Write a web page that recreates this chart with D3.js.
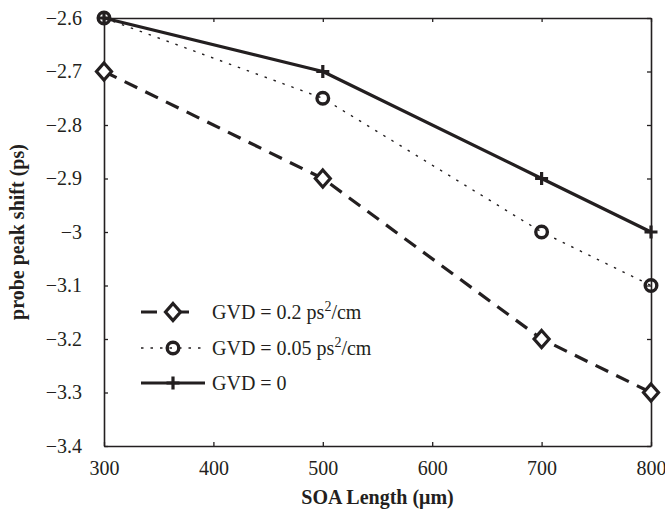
<!DOCTYPE html>
<html><head><meta charset="utf-8">
<script src="https://cdn.jsdelivr.net/npm/d3@7"></script>
<style>body{margin:0;background:#fff}svg{display:block}</style>
</head><body>
<svg id="c" width="665" height="511"></svg>
<script>
const lengths = [300, 500, 700, 800];
const gvd02 = [-2.7, -2.9, -3.2, -3.3];
const gvd005 = [-2.6, -2.75, -3.0, -3.1];
const gvd0 = [-2.6, -2.7, -2.9, -3.0];
const xTicks = [300, 400, 500, 600, 700, 800];
const yTicks = [-2.6, -2.7, -2.8, -2.9, -3.0, -3.1, -3.2, -3.3, -3.4];
const seriesNames = ["GVD = 0.2 ps", "GVD = 0.05 ps", "GVD = 0"];

const svg = d3.select("#c");
const L = 104, R = 651, T = 18, B = 446;
const x = d3.scaleLinear().domain([300, 800]).range([L, R]);
const y = d3.scaleLinear().domain([-3.4, -2.6]).range([B, T]);
const font = "'Liberation Serif','Times New Roman',serif";
const col = "#231f20";
const fs = 20;

const fmtY = d => (d === -3 ? "−3" : "−" + Math.abs(d).toFixed(1));

// axes
const axB = svg.append("g").attr("transform", `translate(0,${B})`)
  .call(d3.axisBottom(x).tickValues(xTicks).tickSizeInner(-4).tickSizeOuter(0).tickPadding(15));
const axL = svg.append("g").attr("transform", `translate(${L},0)`)
  .call(d3.axisLeft(y).tickValues(yTicks).tickSizeInner(-4).tickSizeOuter(0).tickPadding(22).tickFormat(fmtY));
const axT = svg.append("g").attr("transform", `translate(0,${T})`)
  .call(d3.axisTop(x).tickValues(xTicks).tickSizeInner(-4).tickSizeOuter(0).tickFormat(""));
const axR = svg.append("g").attr("transform", `translate(${R},0)`)
  .call(d3.axisRight(y).tickValues(yTicks).tickSizeInner(-4).tickSizeOuter(0).tickFormat(""));
[axB, axL, axT, axR].forEach(a => {
  a.select(".domain").attr("stroke", col).attr("stroke-width", 1.6);
  a.selectAll(".tick line").attr("stroke", col).attr("stroke-width", 1.3);
  a.selectAll("text").attr("font-family", font).attr("font-size", fs).attr("fill", col);
});
axB.selectAll("text").attr("dy", "0.71em");

// axis titles
svg.append("text").attr("x", (L + R) / 2).attr("y", 504).attr("text-anchor", "middle")
  .attr("font-family", font).attr("font-size", fs).attr("font-weight", "bold").attr("fill", col)
  .text("SOA Length (μm)");
svg.append("text").attr("transform", `translate(24,${(T + B) / 2}) rotate(-90)`).attr("text-anchor", "middle")
  .attr("font-family", font).attr("font-size", fs).attr("font-weight", "bold").attr("fill", col)
  .text("probe peak shift (ps)");

const styles = [
  {vals: gvd02, dash: "14,9", legDash: "16,9,23,100", w: 3.2, marker: "diamond"},
  {vals: gvd005, dash: "2.5,7", legDash: "2.5,7", w: 1.4, marker: "circle"},
  {vals: gvd0, dash: null, legDash: null, w: 3.2, marker: "plus"}
];
const line = d3.line().x((d, i) => x(lengths[i])).y(d => y(d));

function drawMarker(g, type, cx, cy) {
  if (type === "diamond") {
    g.append("path").attr("d", `M${cx},${cy - 8.5}L${cx + 7.5},${cy}L${cx},${cy + 8.5}L${cx - 7.5},${cy}Z`)
      .attr("fill", "#fff").attr("stroke", col).attr("stroke-width", 3.2);
  } else if (type === "circle") {
    g.append("circle").attr("cx", cx).attr("cy", cy).attr("r", 5.8)
      .attr("fill", "none").attr("stroke", col).attr("stroke-width", 3.4);
  } else {
    g.append("path").attr("d", `M${cx - 6.5},${cy}H${cx + 6.5}M${cx},${cy - 6.5}V${cy + 6.5}`)
      .attr("stroke", col).attr("stroke-width", 3.2);
  }
}

[2, 1, 0].forEach(k => {
  const s = styles[k];
  const g = svg.append("g");
  g.append("path").datum(s.vals).attr("d", line).attr("fill", "none")
    .attr("stroke", col).attr("stroke-width", s.w)
    .attr("stroke-dasharray", s.dash).attr("stroke-linejoin", "round");
  s.vals.forEach((v, i) => drawMarker(g, s.marker, x(lengths[i]), y(v)));
});

// legend
const legY = [312, 348, 383];
styles.forEach((s, k) => {
  const g = svg.append("g");
  const ly = legY[k];
  g.append("line").attr("x1", 141).attr("x2", 205).attr("y1", ly).attr("y2", ly)
    .attr("stroke", col).attr("stroke-width", s.w).attr("stroke-dasharray", s.legDash);
  drawMarker(g, s.marker, 173, ly);
  const t = g.append("text").attr("x", 212).attr("y", ly + 7)
    .attr("font-family", font).attr("font-size", fs).attr("fill", col);
  t.append("tspan").text(seriesNames[k]);
  if (k < 2) {
    t.append("tspan").attr("dy", -8).attr("font-size", 14).text("2");
    t.append("tspan").attr("dy", 8).text("/cm");
  }
});
</script>
</body></html>
